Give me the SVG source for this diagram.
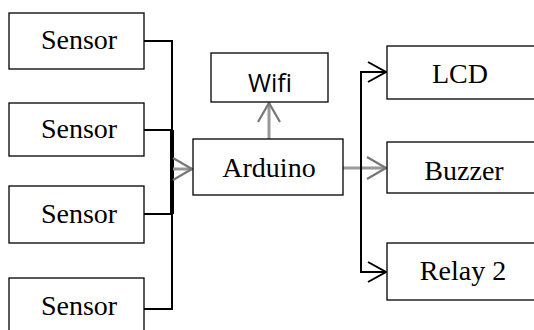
<svg xmlns="http://www.w3.org/2000/svg" width="534" height="330" viewBox="0 0 534 330">
<style>
.box{fill:#fff;stroke:#000;stroke-width:1.3}
.t{font-family:"Liberation Serif","Times New Roman",serif;font-size:28px;fill:#000;text-anchor:middle}
.ts{font-family:"Open Sans","Liberation Sans",sans-serif;font-size:25px;fill:#000;text-anchor:middle}
.bk{fill:none;stroke:#000;stroke-width:2}
.gr{fill:none;stroke:#999;stroke-width:3}
</style>
<defs>
<marker id="ab" markerUnits="userSpaceOnUse" markerWidth="22" markerHeight="24" refX="19" refY="11" orient="auto" viewBox="0 0 22 24">
<path d="M1,1 L19,11 L1,21" fill="none" stroke="#000" stroke-width="2"/>
</marker>
<marker id="ag" markerUnits="userSpaceOnUse" markerWidth="24" markerHeight="26" refX="20" refY="12" orient="auto" viewBox="0 0 24 26">
<path d="M1,1 L20,12 L1,23" fill="none" stroke="#777" stroke-width="2.2"/>
</marker>
</defs>
<g id="connectors">
<path class="bk" d="M144,41 H172 V309 H144 M144,130 H172 M144,214 H172"/>
<path d="M172,130 V214" stroke="#000" stroke-width="4"/>
<path class="gr" d="M173,169 H192" marker-end="url(#ag)"/>
<path class="gr" d="M269,139 V103" marker-end="url(#ag)"/>
<path class="gr" d="M343,168 H386" marker-end="url(#ag)"/>
<path class="bk" d="M387,72 H361 V272 H386" marker-end="url(#ab)"/>
<path class="bk" d="M361,72 H386" marker-end="url(#ab)"/>
</g>
<g id="sensor1"><rect class="box" x="9" y="13" width="135" height="56"/><text class="t" x="79" y="49">Sensor</text></g>
<g id="sensor2"><rect class="box" x="9" y="103" width="135" height="53"/><text class="t" x="79" y="138">Sensor</text></g>
<g id="sensor3"><rect class="box" x="9" y="186" width="135" height="57"/><text class="t" x="79" y="223">Sensor</text></g>
<g id="sensor4"><rect class="box" x="9" y="278" width="135" height="60"/><text class="t" x="79" y="315">Sensor</text></g>
<g id="wifi"><rect class="box" x="211" y="53" width="117" height="49"/><text class="ts" x="270" y="92">Wifi</text></g>
<g id="arduino"><rect class="box" x="193" y="139" width="150" height="56"/><text class="t" x="269" y="177">Arduino</text></g>
<g id="lcd"><rect class="box" x="387" y="46" width="160" height="53"/><text class="t" x="460" y="83">LCD</text></g>
<g id="buzzer"><rect class="box" x="387" y="142" width="160" height="51"/><text class="t" x="464" y="180">Buzzer</text></g>
<g id="relay2"><rect class="box" x="387" y="243" width="160" height="57"/><text class="t" x="463" y="280">Relay 2</text></g>
</svg>
